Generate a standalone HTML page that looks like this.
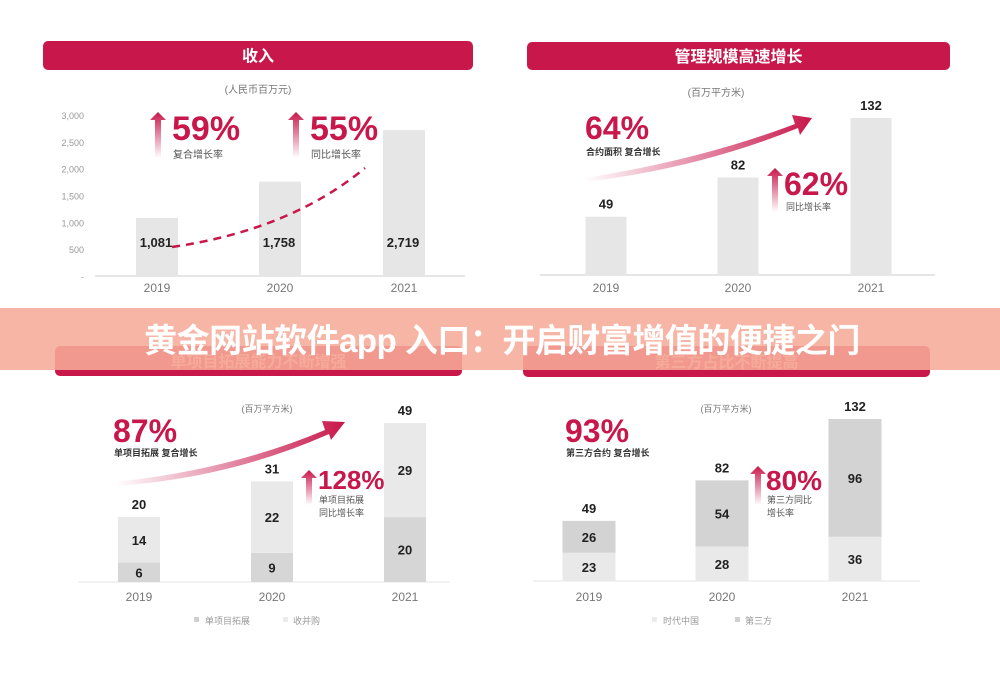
<!DOCTYPE html>
<html><head><meta charset="utf-8">
<style>
body{margin:0;background:#fff;width:1000px;height:678px;overflow:hidden;font-family:"Liberation Sans","Noto Sans CJK SC",sans-serif}
svg{display:block}
text{font-family:"Liberation Sans","Noto Sans CJK SC",sans-serif}
</style></head>
<body>
<svg id="c" width="1000" height="678" viewBox="0 0 1000 678">
<defs>
<linearGradient id="ga" x1="0" y1="1" x2="0" y2="0"><stop offset="0" stop-color="#c8174b" stop-opacity="0"/><stop offset="1" stop-color="#c8174b"/></linearGradient>
<linearGradient id="gb" x1="0" y1="0" x2="1" y2="0"><stop offset="0" stop-color="#c8174b" stop-opacity="0"/><stop offset="1" stop-color="#c8174b"/></linearGradient>
</defs>
</svg>
<script>
const NS='http://www.w3.org/2000/svg';
const svg=document.getElementById('c');
function el(tag,attrs,parent,txt){const e=document.createElementNS(NS,tag);for(const k in attrs)e.setAttribute(k,attrs[k]);if(txt!==undefined)e.textContent=txt;(parent||svg).appendChild(e);return e;}

const years=['2019','2020','2021'];
const revenue=[1081,1758,2719];
const revenueTicks=[0,500,1000,1500,2000,2500,3000];
const revenueTickLabels=['-','500','1,000','1,500','2,000','2,500','3,000'];
const revenueLabels=['1,081','1,758','2,719'];
const aum=[49,82,132];
const singleProj=[6,9,20];
const mergers=[14,22,29];
const timesChina=[23,28,36];
const thirdParty=[26,54,96];

function header(x,y,w,h,t,faded,name){
  const r=el('rect',{x:x,y:y,width:w,height:h,rx:5,fill:'#c8174b'});
  
  const tt=el('text',{x:x+w/2,y:y+h/2+6,'text-anchor':'middle','font-size':16,'font-weight':'bold',fill:faded?'#f2a3a6':'#fff'},null,t);
  
}
function txt(x,y,s,size,fill,anchor,weight,name){
  const t=el('text',{x:x,y:y,'font-size':size,fill:fill,'text-anchor':anchor||'middle','font-weight':weight||'normal'},null,s);
  return t;
}
function upArrow(x,yTop,yBot,name){
  const g=el('path',{d:`M${x-3} ${yBot} L${x-3} ${yTop+8} L${x-8} ${yTop+8} L${x} ${yTop} L${x+8} ${yTop+8} L${x+3} ${yTop+8} L${x+3} ${yBot} Z`,fill:'url(#ga)'});
  
}

/* Panel 1: revenue */
header(43,41,430,29,'收入',false,'revenue-header');
txt(258,93,'(人民币百万元)',10,'#777','middle','normal','revenue-unit');
const p1={base:276,k:161/3000,cx:[157,280,404],bw:42};
const y1=v=>p1.base-v*p1.k;
revenueTicks.forEach((v,i)=>{txt(84,y1(v)+4,revenueTickLabels[i],9,'#999','end','normal','y-tick-'+v);});
let ax=el('line',{x1:95,y1:p1.base,x2:465,y2:p1.base,stroke:'#ddd','stroke-width':1.5});

revenue.forEach((v,i)=>{
  const r=el('rect',{x:p1.cx[i]-p1.bw/2,y:y1(v),width:p1.bw,height:v*p1.k,fill:'#e6e6e6'});
  
  txt(p1.cx[i]-1,247,revenueLabels[i],13,'#222','middle','bold','revenue-value-'+years[i]);
  txt(p1.cx[i],292,years[i],12,'#777','middle','normal','revenue-year-'+years[i]);
});
let dc=el('path',{d:'M172 247 Q290 230 365 168',fill:'none',stroke:'#c8174b','stroke-width':2.5,'stroke-dasharray':'8 6'});

upArrow(158,112,158,'cagr-arrow');
txt(172,140,'59%',34,'#c8174b','start','bold','cagr-value');
txt(173,158,'复合增长率',10,'#555','start','normal','cagr-label');
upArrow(296,112,158,'yoy-arrow');
txt(310,140,'55%',34,'#c8174b','start','bold','yoy-value');
txt(311,158,'同比增长率',10,'#555','start','normal','yoy-label');

/* Panel 2: AUM */
header(527,42,423,28,'管理规模高速增长',false,'aum-header');
txt(716,96,'(百万平方米)',10,'#777','middle','normal','aum-unit');
const p2={base:275,k:157/132,cx:[606,738,871],bw:41};
const y2=v=>p2.base-v*p2.k;
ax=el('line',{x1:540,y1:p2.base,x2:935,y2:p2.base,stroke:'#ddd','stroke-width':1.5});

aum.forEach((v,i)=>{
  const r=el('rect',{x:p2.cx[i]-p2.bw/2,y:y2(v),width:p2.bw,height:v*p2.k,fill:'#e6e6e6'});
  
  txt(p2.cx[i],y2(v)-8,String(v),13,'#222','middle','bold','aum-value-'+years[i]);
  txt(p2.cx[i],292,years[i],12,'#777','middle','normal','aum-year-'+years[i]);
});
let ba=el('path',{d:'M585 178 Q700 160 795 124 L792 115 L812 118 L800 135 L798 128 Q700 168 585 182 Z',fill:'url(#gb)'});

txt(585,139,'64%',32,'#c8174b','start','bold','aum-cagr-value');
txt(586,155,'合约面积 复合增长',9,'#333','start','bold','aum-cagr-label');
upArrow(775,168,212,'aum-yoy-arrow');
txt(784,195,'62%',32,'#c8174b','start','bold','aum-yoy-value');
txt(786,210,'同比增长率',9,'#555','start','normal','aum-yoy-label');

/* Panel 3: single project */
header(55,346,407,30,'单项目拓展能力不断增强',true,'single-project-header');
txt(267,412,'(百万平方米)',9,'#777','middle','normal','single-unit');
const p3={base:582,k:159/49,cx:[139,272,405],bw:42};
const y3=v=>p3.base-v*p3.k;
ax=el('line',{x1:78,y1:p3.base,x2:450,y2:p3.base,stroke:'#eee','stroke-width':1.5});

years.forEach((yr,i)=>{
  const a=singleProj[i],b=mergers[i];
  let r=el('rect',{x:p3.cx[i]-p3.bw/2,y:y3(a),width:p3.bw,height:a*p3.k,fill:'#d6d6d6'});
  
  r=el('rect',{x:p3.cx[i]-p3.bw/2,y:y3(a+b),width:p3.bw,height:b*p3.k,fill:'#e9e9e9'});
  
  txt(p3.cx[i],(y3(a)+p3.base)/2+5,String(a),13,'#222','middle','bold','single-value-'+yr);
  txt(p3.cx[i],(y3(a)+y3(a+b))/2+5,String(b),13,'#222','middle','bold','merger-value-'+yr);
  txt(p3.cx[i],y3(a+b)-8,String(a+b),13,'#222','middle','bold','single-total-'+yr);
  txt(p3.cx[i],601,yr,12,'#777','middle','normal','single-year-'+yr);
});
ba=el('path',{d:'M115 482 Q230 470 325 430 L322 421 L345 422 L331 440 L329 434 Q230 478 115 486 Z',fill:'url(#gb)'});

txt(113,442,'87%',32,'#c8174b','start','bold','single-cagr-value');
txt(114,456,'单项目拓展 复合增长',9,'#333','start','bold','single-cagr-label');
upArrow(309,470,505,'single-yoy-arrow');
txt(318,489,'128%',26,'#c8174b','start','bold','single-yoy-value');
txt(319,503,'单项目拓展',9,'#555','start','normal','single-yoy-label-1');
txt(319,516,'同比增长率',9,'#555','start','normal','single-yoy-label-2');
let lg=el('rect',{x:194,y:617,width:5,height:5,fill:'#d0d0d0'});
txt(205,624,'单项目拓展',9,'#999','start','normal','legend-single-project');
lg=el('rect',{x:283,y:617,width:5,height:5,fill:'#ebebeb'});
txt(293,624,'收并购',9,'#999','start','normal','legend-merger');

/* Panel 4: third party */
header(523,346,407,31,'第三方占比不断提高',true,'third-party-header');
txt(726,412,'(百万平方米)',9,'#777','middle','normal','third-unit');
const p4={base:581,k:162/132,cx:[589,722,855],bw:53};
const y4=v=>p4.base-v*p4.k;
ax=el('line',{x1:533,y1:p4.base,x2:920,y2:p4.base,stroke:'#eee','stroke-width':1.5});

years.forEach((yr,i)=>{
  const a=timesChina[i],b=thirdParty[i];
  let r=el('rect',{x:p4.cx[i]-p4.bw/2,y:y4(a),width:p4.bw,height:a*p4.k,fill:'#e9e9e9'});
  
  r=el('rect',{x:p4.cx[i]-p4.bw/2,y:y4(a+b),width:p4.bw,height:b*p4.k,fill:'#d3d3d3'});
  
  txt(p4.cx[i],(y4(a)+p4.base)/2+5,String(a),13,'#222','middle','bold','times-china-value-'+yr);
  txt(p4.cx[i],(y4(a)+y4(a+b))/2+5,String(b),13,'#222','middle','bold','third-party-value-'+yr);
  txt(p4.cx[i],y4(a+b)-8,String(a+b),13,'#222','middle','bold','third-total-'+yr);
  txt(p4.cx[i],601,yr,12,'#777','middle','normal','third-year-'+yr);
});
txt(565,442,'93%',32,'#c8174b','start','bold','third-cagr-value');
txt(566,456,'第三方合约 复合增长',9,'#333','start','bold','third-cagr-label');
upArrow(758,466,505,'third-yoy-arrow');
txt(766,490,'80%',28,'#c8174b','start','bold','third-yoy-value');
txt(767,503,'第三方同比',9,'#555','start','normal','third-yoy-label-1');
txt(767,516,'增长率',9,'#555','start','normal','third-yoy-label-2');
lg=el('rect',{x:652,y:617,width:5,height:5,fill:'#ebebeb'});
txt(663,624,'时代中国',9,'#999','start','normal','legend-times-china');
lg=el('rect',{x:735,y:617,width:5,height:5,fill:'#d0d0d0'});
txt(745,624,'第三方',9,'#999','start','normal','legend-third-party');

/* Banner overlay */
const bn=el('rect',{x:0,y:308,width:1000,height:62,fill:'#f6ab98','fill-opacity':0.88});

const bt=el('text',{x:502,y:352,'text-anchor':'middle','font-size':33,'font-weight':'bold',fill:'#fff','letter-spacing':'-0.5'},null,'黄金网站软件app 入口：开启财富增值的便捷之门');

</script>
</body></html>
